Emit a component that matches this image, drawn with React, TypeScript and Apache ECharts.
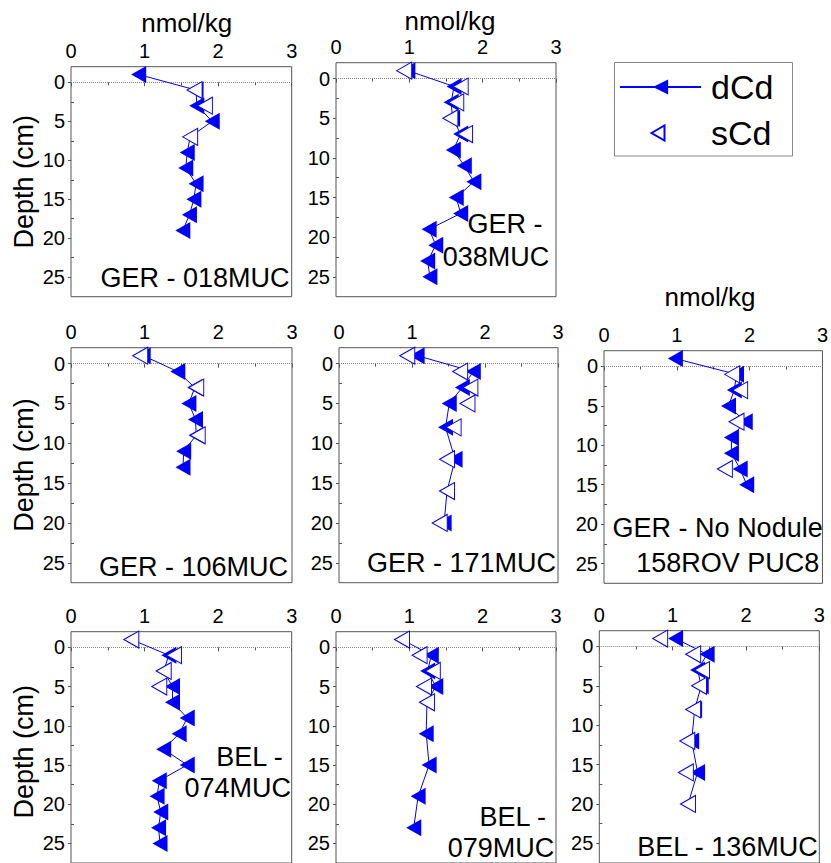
import React, { useEffect, useRef } from 'react';
import * as echarts from 'echarts';

const FONT = '"Liberation Sans", Arial, Helvetica, sans-serif';
const BLUE = '#0000ff';
const FRAME = '#555555';

// ---------- data (concentration nmol/kg vs depth cm) ----------
const concTicks = [0, 1, 2, 3];
const depthMajorTicks = [0, 5, 10, 15, 20, 25];
const depthMinorTicks = [2.5, 7.5, 12.5, 17.5, 22.5];
const seriesNames = ['dCd', 'sCd'];

// GER - 018MUC
const d018Depth = [-1, 1, 3, 5, 7, 9, 11, 13, 15, 17, 19];
const d018 = [0.92, 1.7, 1.71, 1.92, 1.62, 1.58, 1.56, 1.7, 1.67, 1.61, 1.52];
const s018Depth = [1, 3, 7];
const s018 = [1.68, 1.82, 1.62];

// GER - 038MUC
const d038Depth = [-1, 1, 3, 5, 7, 9, 11, 13, 15, 17, 19, 21, 23, 25];
const d038 = [0.98, 1.61, 1.57, 1.59, 1.7, 1.6, 1.75, 1.88, 1.64, 1.7, 1.27, 1.36, 1.25, 1.28];
const s038Depth = [-1, 1, 3, 5, 7];
const s038 = [0.93, 1.7, 1.64, 1.56, 1.76];

// GER - 106MUC
const d106Depth = [-1, 1, 3, 5, 7, 9, 11, 13];
const d106 = [0.98, 1.45, 1.68, 1.6, 1.69, 1.7, 1.53, 1.52];
const s106Depth = [-1, 3, 9];
const s106 = [0.94, 1.7, 1.72];

// GER - 171MUC
const d171Depth = [-1, 1, 3, 5, 8, 12, 16, 20];
const d171 = [1.07, 1.84, 1.69, 1.51, 1.46, 1.59, 1.48, 1.44];
const s171Depth = [-1, 1, 3, 5, 8, 12, 16, 20];
const s171 = [0.935, 1.66, 1.8, 1.76, 1.57, 1.48, 1.48, 1.38];

// GER - No Nodule 158ROV PUC8
const d158Depth = [-1, 1, 3, 5, 7, 9, 11, 13, 15];
const d158 = [0.98, 1.82, 1.79, 1.71, 1.94, 1.75, 1.75, 1.87, 1.96];
const s158Depth = [1, 3, 7, 13];
const s158 = [1.76, 1.87, 1.82, 1.66];

// BEL - 074MUC
const d074Depth = [-1, 1, 3, 5, 7, 9, 11, 13, 15, 17, 19, 21, 23, 25];
const d074 = [0.82, 1.33, 1.26, 1.38, 1.38, 1.58, 1.47, 1.26, 1.58, 1.2, 1.17, 1.22, 1.19, 1.21];
const s074Depth = [-1, 1, 3, 5];
const s074 = [0.82, 1.4, 1.26, 1.2];

// BEL - 079MUC
const d079Depth = [-1, 1, 3, 5, 7, 11, 15, 19, 23];
const d079 = [0.9, 1.3, 1.25, 1.36, 1.24, 1.23, 1.27, 1.12, 1.06];
const s079Depth = [-1, 1, 3, 5, 7];
const s079 = [0.9, 1.14, 1.32, 1.2, 1.24];

// BEL - 136MUC
const d136Depth = [-1, 1, 3, 5, 8, 12, 16, 20];
const d136 = [1.04, 1.47, 1.34, 1.39, 1.3, 1.26, 1.34, 1.21];
const s136Depth = [-1, 1, 3, 5, 8, 12, 16, 20];
const s136 = [0.83, 1.28, 1.4, 1.36, 1.28, 1.2, 1.18, 1.21];

const panelLabels = [
  ['GER - 018MUC'],
  ['GER -', '038MUC'],
  ['GER - 106MUC'],
  ['GER - 171MUC'],
  ['GER - No Nodule', '158ROV PUC8'],
  ['BEL -', '074MUC'],
  ['BEL -', '079MUC'],
  ['BEL - 136MUC'],
];

const panelData = [
  { d: d018, dDepth: d018Depth, s: s018, sDepth: s018Depth },
  { d: d038, dDepth: d038Depth, s: s038, sDepth: s038Depth },
  { d: d106, dDepth: d106Depth, s: s106, sDepth: s106Depth },
  { d: d171, dDepth: d171Depth, s: s171, sDepth: s171Depth },
  { d: d158, dDepth: d158Depth, s: s158, sDepth: s158Depth },
  { d: d074, dDepth: d074Depth, s: s074, sDepth: s074Depth },
  { d: d079, dDepth: d079Depth, s: s079, sDepth: s079Depth },
  { d: d136, dDepth: d136Depth, s: s136, sDepth: s136Depth },
];

// ---------- layout ----------
const Y_MIN = -2;
const Y_MAX = 27.5;
const MARK_SIZE = [17, 15];
const LEFT_TRIANGLE_ICON = 'path://M0,7.5L13,0L13,15Z';

const boxes = [
  { left: 71, top: 66.7, width: 220.7, height: 230 },
  { left: 336, top: 62.7, width: 220, height: 234 },
  { left: 71, top: 347.7, width: 221, height: 235 },
  { left: 339, top: 347.7, width: 219, height: 235 },
  { left: 604, top: 350.7, width: 221.5, height: 232.6 },
  { left: 71, top: 631.7, width: 220.7, height: 236 },
  { left: 336, top: 631.7, width: 220, height: 235 },
  { left: 599.3, top: 630.7, width: 220, height: 235 },
];

const labelPos = [
  [{ x: 289.5, y: 278 }],
  [{ x: 542.5, y: 224 }, { x: 549.3, y: 256.7 }],
  [{ x: 288, y: 566.7 }],
  [{ x: 556, y: 563.3 }],
  [{ x: 822.7, y: 528.3 }, { x: 819.3, y: 563.3 }],
  [{ x: 282.7, y: 756.7 }, { x: 291, y: 788.3 }],
  [{ x: 546, y: 816.7 }, { x: 554.3, y: 848.3 }],
  [{ x: 817.7, y: 846.7 }],
];

const unitTitles = [
  { x: 186.7, y: 23 },
  { x: 450, y: 21 },
  { x: 710, y: 297 },
];

const depthTitles = [181.7, 465, 751.7];

function buildOption() {
  const grid: any[] = [];
  const xAxis: any[] = [];
  const yAxis: any[] = [];
  const series: any[] = [];
  const graphic: any[] = [];

  boxes.forEach((b, i) => {
    grid.push({
      left: b.left,
      top: b.top,
      width: b.width,
      height: b.height,
      show: true,
      borderColor: FRAME,
      borderWidth: 1,
      backgroundColor: 'transparent',
      containLabel: false,
    });
    xAxis.push({
      gridIndex: i,
      type: 'value',
      position: 'top',
      min: concTicks[0],
      max: concTicks[concTicks.length - 1],
      interval: 1,
      axisLine: { show: false },
      axisTick: { show: true, inside: true, length: 4, lineStyle: { color: FRAME } },
      minorTick: { show: true, splitNumber: 2, length: 3, lineStyle: { color: FRAME } },
      splitLine: { show: false },
      minorSplitLine: { show: false },
      axisLabel: { fontSize: 20, color: '#000', fontFamily: FONT, margin: 6 },
    });
    yAxis.push({
      gridIndex: i,
      type: 'value',
      position: 'left',
      inverse: true,
      min: Y_MIN,
      max: Y_MAX,
      axisLine: { show: false },
      axisTick: {
        show: true,
        inside: false,
        length: 3,
        customValues: depthMajorTicks,
        lineStyle: { color: FRAME },
      },
      axisLabel: {
        customValues: depthMajorTicks,
        fontSize: 20,
        color: '#000',
        fontFamily: FONT,
        margin: 6,
      },
      splitLine: { show: false },
    });
    yAxis.push({
      gridIndex: i,
      type: 'value',
      position: 'left',
      offset: 0,
      inverse: true,
      min: Y_MIN,
      max: Y_MAX,
      axisLine: { show: false },
      axisTick: {
        show: true,
        inside: true,
        length: 3,
        customValues: depthMinorTicks,
        lineStyle: { color: FRAME },
      },
      axisLabel: { show: false },
      splitLine: { show: false },
    });

    const p = panelData[i];
    series.push({
      name: seriesNames[0],
      type: 'line',
      xAxisIndex: i,
      yAxisIndex: 2 * i,
      data: p.d.map((v, k) => [v, p.dDepth[k]]),
      symbol: 'triangle',
      symbolSize: MARK_SIZE,
      symbolRotate: 90,
      showSymbol: true,
      lineStyle: { color: BLUE, width: 1 },
      itemStyle: { color: BLUE, opacity: 1 },
      z: 3,
      markLine: {
        silent: true,
        symbol: 'none',
        label: { show: false },
        lineStyle: { type: 'dotted', color: '#888', width: 1 },
        data: [{ yAxis: 0 }],
        z: 1,
      },
    });
    series.push({
      name: seriesNames[1],
      type: 'scatter',
      xAxisIndex: i,
      yAxisIndex: 2 * i,
      data: p.s.map((v, k) => [v, p.sDepth[k]]),
      symbol: 'triangle',
      symbolSize: MARK_SIZE,
      symbolRotate: 90,
      itemStyle: { color: '#ffffff', borderColor: BLUE, borderWidth: 1, opacity: 1 },
      z: 4,
    });

    panelLabels[i].forEach((line, k) => {
      const pos = labelPos[i][k];
      graphic.push({
        type: 'text',
        x: pos.x,
        y: pos.y,
        z: 10,
        style: {
          text: line,
          fill: '#000',
          fontSize: 27,
          fontFamily: FONT,
          textAlign: 'right',
          textVerticalAlign: 'middle',
          align: 'right',
          verticalAlign: 'middle',
        },
      });
    });
  });

  unitTitles.forEach((t) => {
    graphic.push({
      type: 'text',
      x: t.x,
      y: t.y,
      style: {
        text: 'nmol/kg',
        fill: '#000',
        fontSize: 26,
        fontFamily: FONT,
        textAlign: 'center',
        textVerticalAlign: 'middle',
        align: 'center',
        verticalAlign: 'middle',
      },
    });
  });

  depthTitles.forEach((y) => {
    graphic.push({
      type: 'text',
      x: 24,
      y,
      rotation: Math.PI / 2,
      style: {
        text: 'Depth (cm)',
        fill: '#000',
        fontSize: 27,
        fontFamily: FONT,
        textAlign: 'center',
        textVerticalAlign: 'middle',
        align: 'center',
        verticalAlign: 'middle',
      },
    });
  });

  // legend frame
  graphic.push({
    type: 'rect',
    shape: { x: 614.5, y: 62.5, width: 178, height: 93.5 },
    style: { fill: 'transparent', stroke: '#888', lineWidth: 1 },
    z: 0,
  });

  const legendText = { fontSize: 34, color: '#000', fontFamily: FONT };

  return {
    animation: false,
    backgroundColor: '#ffffff',
    textStyle: { fontFamily: FONT },
    grid,
    xAxis,
    yAxis,
    series,
    graphic: { elements: graphic },
    legend: [
      {
        data: [seriesNames[0]],
        left: 619,
        top: 70,
        padding: 0,
        itemWidth: 81,
        itemHeight: 19,
        selectedMode: false,
        textStyle: { ...legendText, padding: [0, 0, 0, 5] },
      },
      {
        data: [{ name: seriesNames[1], icon: LEFT_TRIANGLE_ICON }],
        left: 650.5,
        top: 116,
        padding: 0,
        itemWidth: 13,
        itemHeight: 15,
        symbolKeepAspect: true,
        selectedMode: false,
        textStyle: { ...legendText, padding: [0, 0, 0, 41.5] },
      },
    ],
  };
}

export default function App() {
  const ref = useRef<HTMLDivElement>(null);
  useEffect(() => {
    document.body.style.margin = '0';
    const chart = echarts.init(ref.current as HTMLDivElement, null, { renderer: 'svg' });
    chart.setOption(buildOption() as any);
    return () => chart.dispose();
  }, []);
  return (
    <div
      ref={ref}
      style={{ width: 831, height: 863, position: 'absolute', left: 0, top: 0, background: '#fff' }}
    />
  );
}
